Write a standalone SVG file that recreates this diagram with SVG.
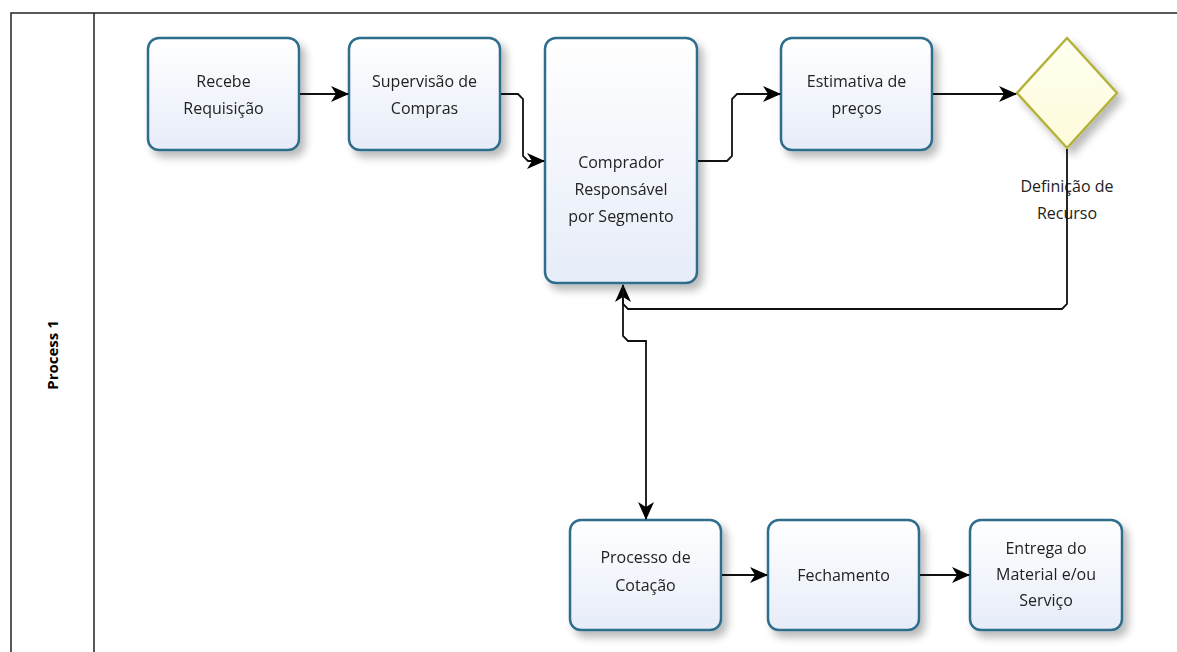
<svg xmlns="http://www.w3.org/2000/svg" width="1177" height="652" viewBox="0 0 1177 652">
<defs>
<linearGradient id="nodeFill" x1="0" y1="0" x2="0" y2="1">
<stop offset="0" stop-color="#ffffff"/>
<stop offset="1" stop-color="#e6ecf8"/>
</linearGradient>
<linearGradient id="gateFill" x1="0" y1="0" x2="0" y2="1">
<stop offset="0" stop-color="#fffff2"/>
<stop offset="1" stop-color="#fdfbd8"/>
</linearGradient>
<filter id="shadow" x="-20%" y="-20%" width="150%" height="150%">
<feGaussianBlur in="SourceAlpha" stdDeviation="4"/>
<feOffset dx="5" dy="6" result="b"/>
<feComponentTransfer><feFuncA type="linear" slope="0.28"/></feComponentTransfer>
<feMerge><feMergeNode/><feMergeNode in="SourceGraphic"/></feMerge>
</filter>
<marker id="arrow" viewBox="0 0 18 16" refX="17" refY="8" markerWidth="18" markerHeight="16" markerUnits="userSpaceOnUse" orient="auto">
<path d="M0,0 L18,8 L0,16 L5,8 Z" fill="#000"/>
</marker>
</defs>
<style>
.node rect{fill:url(#nodeFill);stroke:#2f6d8c;stroke-width:2.5}
.gate polygon{fill:url(#gateFill);stroke:#b3b23a;stroke-width:2.5}
text{font-family:"Open Sans","DejaVu Sans",sans-serif;font-size:16px;fill:#222;text-anchor:middle}
.conn path{fill:none;stroke:#111;stroke-width:1.8;marker-end:url(#arrow)}
.lane{fill:none;stroke:#222;stroke-width:1.5}
</style>
<rect width="1177" height="652" fill="#fff"/>
<g id="lane">
<path class="lane" d="M11,652 L11,13 L1177,13 M94,13 L94,652"/>
<text x="0" y="0" transform="translate(58,355) rotate(-90)" style="font-weight:bold;font-size:15px;fill:#000">Process 1</text>
</g>
<g id="n-recebe" class="node" filter="url(#shadow)">
<rect x="148" y="38" width="151" height="112" rx="11"/>
<text x="223.5" y="87">Recebe</text>
<text x="223.5" y="114">Requisição</text>
</g>
<g id="n-supervisao" class="node" filter="url(#shadow)">
<rect x="349" y="38" width="151" height="112" rx="11"/>
<text x="424.5" y="87">Supervisão de</text>
<text x="424.5" y="114">Compras</text>
</g>
<g id="n-comprador" class="node" filter="url(#shadow)">
<rect x="545" y="38" width="152" height="245" rx="11"/>
<text x="621" y="168">Comprador</text>
<text x="621" y="195">Responsável</text>
<text x="621" y="222">por Segmento</text>
</g>
<g id="n-estimativa" class="node" filter="url(#shadow)">
<rect x="781" y="38" width="151" height="112" rx="11"/>
<text x="856.5" y="87">Estimativa de</text>
<text x="856.5" y="114">preços</text>
</g>
<g id="n-definicao" class="gate">
<polygon points="1067,38 1117,93 1067,148 1017,93" filter="url(#shadow)"/>
<text x="1067" y="192">Definição de</text>
<text x="1067" y="219">Recurso</text>
</g>
<g id="n-processo" class="node" filter="url(#shadow)">
<rect x="570" y="520" width="151" height="110" rx="11"/>
<text x="645.5" y="563">Processo de</text>
<text x="645.5" y="591">Cotação</text>
</g>
<g id="n-fechamento" class="node" filter="url(#shadow)">
<rect x="768" y="520" width="151" height="110" rx="11"/>
<text x="843.5" y="581">Fechamento</text>
</g>
<g id="n-entrega" class="node" filter="url(#shadow)">
<rect x="970" y="520" width="152" height="110" rx="11"/>
<text x="1046" y="554">Entrega do</text>
<text x="1046" y="580">Material e/ou</text>
<text x="1046" y="606">Serviço</text>
</g>
<g id="connectors" class="conn">
<path d="M300,94 L348,94"/>
<path d="M501,94 L518,94 L523,99 L523,156 L528,161 L544,161"/>
<path d="M698,161 L727,161 L732,156 L732,99 L737,94 L780,94"/>
<path d="M933,94 L1016,94"/>
<path d="M1067,149 L1067,304 L1062,309 L628,309 L623,304 L623,285"/>
<path d="M623,285 L623,336 L628,341 L646,341 L646,519"/>
<path d="M722,575 L767,575"/>
<path d="M920,575 L969,575"/>
</g>
</svg>
